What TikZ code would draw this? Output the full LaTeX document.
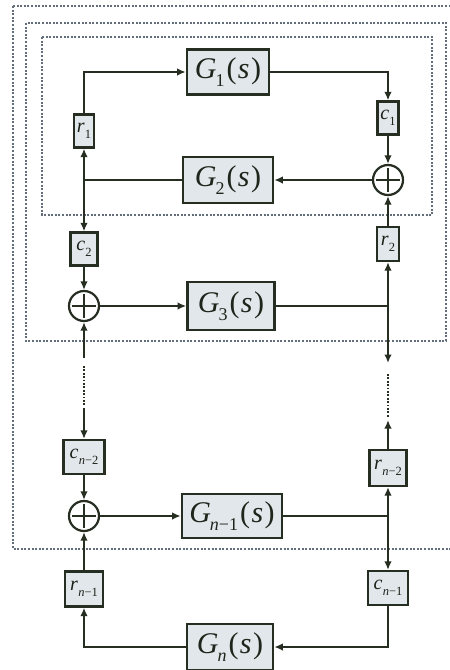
\documentclass[tikz,border=0pt]{standalone}
\usepackage{fontspec}
\setmainfont{Liberation Serif}
\usetikzlibrary{arrows.meta}
\definecolor{ink}{RGB}{38,46,34}
\definecolor{boxfill}{RGB}{226,231,235}
\definecolor{dash}{RGB}{100,110,122}
\newcommand{\Gsub}[1]{\textit{G}\kern-1pt\raisebox{-0.27em}{\fontsize{18}{18}\selectfont #1}\kern2pt(\kern1.5pt\textit{s}\kern1.5pt)}
\newcommand{\lab}[2]{\textit{#1}\kern0.3pt\raisebox{-0.3em}{\fontsize{12.5}{12.5}\selectfont #2}}
\begin{document}
\begin{tikzpicture}[x=1pt,y=-1pt,
  line width=2.2pt, draw=ink,
  gbox/.style={draw=ink, line width=2.6pt, fill=boxfill, rectangle, inner sep=0pt, font=\fontsize{30}{30}\selectfont, text=ink!80!black},
  sbox/.style={draw=ink, line width=2.3pt, fill=boxfill, rectangle, inner sep=0pt, font=\fontsize{20}{20}\selectfont, text=ink!70!black},
  sumnode/.style={draw=ink, line width=2.2pt, fill=white, circle, minimum size=30pt, inner sep=0pt,
    path picture={\draw[ink, line width=2.4pt] ([yshift=-3pt]path picture bounding box.north) -- ([yshift=3pt]path picture bounding box.south);
                  \draw[ink, line width=2.4pt] ([xshift=3pt]path picture bounding box.west) -- ([xshift=-3pt]path picture bounding box.east);}},
  arr/.style={-{Latex[length=8.5pt,width=7.5pt]}},
  dotbox/.style={draw=dash, line width=1.7pt, dash pattern=on 2pt off 1.6pt},
  dotline/.style={draw=ink, line width=2.8pt, dash pattern=on 1.8pt off 1.6pt}]
\useasboundingbox (0,0) rectangle (450,670);
\fill[white] (0,0) rectangle (450,670);
\clip (0,0) rectangle (450,670);

% dashed enclosures
\draw[dotbox] (13,6) rectangle (452,549);
\draw[dotbox] (26,23) rectangle (446,341);
\draw[dotbox] (42,37) rectangle (432,215);

% blocks
\node[gbox, minimum width=82pt, minimum height=45pt] (G1) at (228,72) {\Gsub{1}};
\node[gbox, minimum width=90pt, minimum height=46pt] (G2) at (228,180) {\Gsub{2}};
\node[gbox, minimum width=87pt, minimum height=48pt] (G3) at (231,306) {\Gsub{3}};
\node[gbox, minimum width=100pt, minimum height=44pt] (Gn1) at (232,516) {\Gsub{\textit{n}−1}};
\node[gbox, minimum width=86pt, minimum height=46pt] (Gn) at (230,647) {\Gsub{\textit{n}}};

\node[sbox, minimum width=20pt, minimum height=33pt] (r1) at (84,131) {\lab{r}{1}};
\node[sbox, minimum width=21pt, minimum height=33pt] (c1) at (388,118) {\lab{c}{1}};
\node[sbox, minimum width=27pt, minimum height=33pt] (c2) at (84,249) {\lab{c}{2}};
\node[sbox, minimum width=22pt, minimum height=34pt] (r2) at (388,244) {\lab{r}{2}};
\node[sbox, minimum width=41pt, minimum height=34pt] (cn2) at (84,457) {\lab{c}{\textit{n}−2}};
\node[sbox, minimum width=37pt, minimum height=36pt] (rn2) at (388,468) {\lab{r}{\textit{n}−2}};
\node[sbox, minimum width=40pt, minimum height=34pt] (cn1) at (388,588) {\lab{c}{\textit{n}−1}};
\node[sbox, minimum width=38pt, minimum height=35pt] (rn1) at (84,589) {\lab{r}{\textit{n}−1}};

\node[sumnode] (s1) at (388,180) {};
\node[sumnode] (s2) at (84,306) {};
\node[sumnode] (s3) at (84,516) {};

% junctions and free ends
\coordinate (jL1) at (84,180);
\coordinate (jR2) at (388,306);
\coordinate (jR3) at (388,516);
\coordinate (aR1) at (388,363);
\coordinate (dR1) at (388,374);
\coordinate (dR2) at (388,418);
\coordinate (aR2) at (388,420);
\coordinate (aL1) at (84,358);
\coordinate (dL1) at (84,366);
\coordinate (dL2) at (84,406);
\coordinate (aL2) at (84,408);

% top loop
\draw (G2.west) -- (jL1);
\draw[arr] (jL1) -- (r1.south);
\draw[arr] (r1.north) |- (G1.west);
\draw[arr] (G1.east) -| (c1.north);
\draw[arr] (c1.south) -- (s1.north);
\draw[arr] (s1.west) -- (G2.east);
\draw[arr] (jL1) -- (c2.north);
\draw[arr] (c2.south) -- (s2.north);
\draw[arr] (r2.north) -- (s1.south);
\draw[arr] (s2.east) -- (G3.west);
\draw (G3.east) -- (jR2);
\draw[arr] (jR2) -- (r2.south);
\draw[arr] (jR2) -- (aR1);
\draw[arr] (aL1) -- (s2.south);

% dotted continuation
\draw[dotline] (dR1) -- (dR2);
\draw[dotline] (dL1) -- (dL2);

% bottom loop
\draw[arr] (rn2.north) -- (aR2);
\draw[arr] (aL2) -- (cn2.north);
\draw[arr] (cn2.south) -- (s3.north);
\draw[arr] (rn1.north) -- (s3.south);
\draw[arr] (s3.east) -- (Gn1.west);
\draw (Gn1.east) -- (jR3);
\draw[arr] (jR3) -- (rn2.south);
\draw[arr] (jR3) -- (cn1.north);
\draw[arr] (cn1.south) |- (Gn.east);
\draw[arr] (Gn.west) -| (rn1.south);
\end{tikzpicture}
\end{document}
